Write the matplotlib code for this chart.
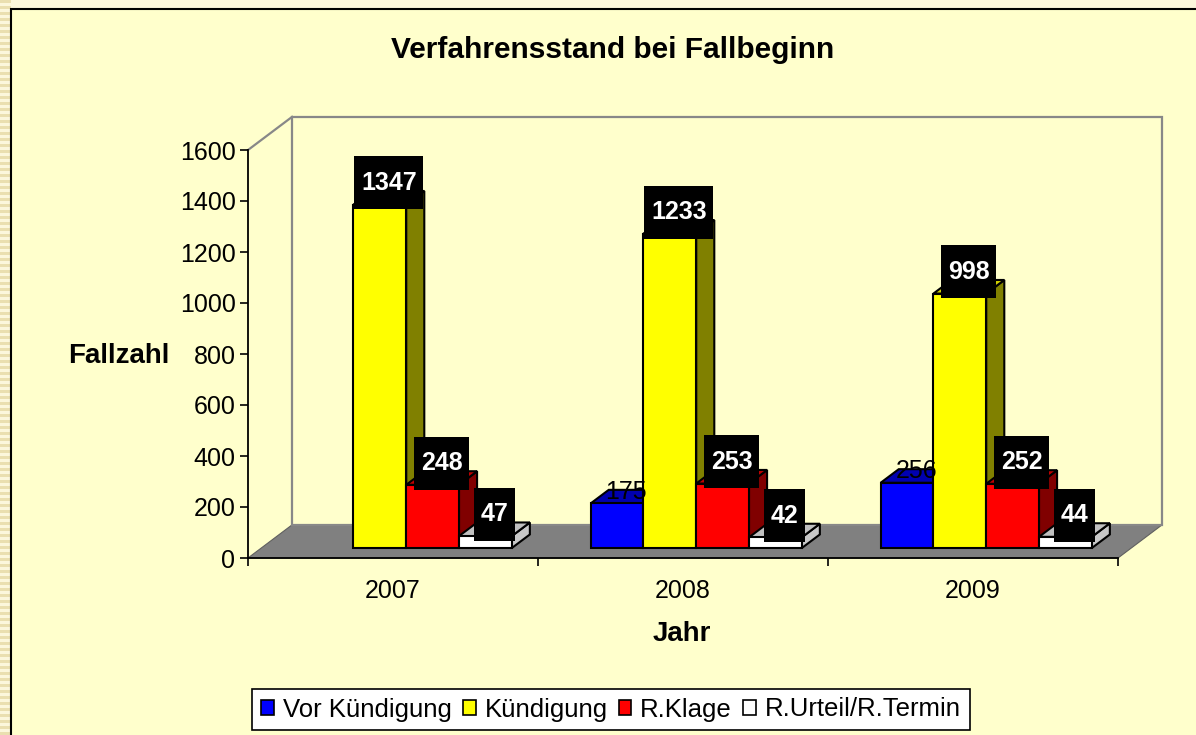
import matplotlib
matplotlib.use("Agg")
import matplotlib.pyplot as plt
import numpy as np
from matplotlib.patches import Polygon, Rectangle, Patch
from matplotlib.path import Path

plt.rcParams['font.family'] = ['Liberation Sans', 'DejaVu Sans']

# data
years = ['2007', '2008', '2009']
series = ['Vor Kündigung', 'Kündigung', 'R.Klage', 'R.Urteil/R.Termin']
vor_kuendigung = [np.nan, 175, 256]
kuendigung = [1347, 1233, 998]
r_klage = [248, 253, 252]
r_urteil = [47, 42, 44]
yticks = [0, 200, 400, 600, 800, 1000, 1200, 1400, 1600]

values = [vor_kuendigung, kuendigung, r_klage, r_urteil]
front_col = ['#0000FF', '#FFFF00', '#FF0000', '#FFFFFF']
top_col = ['#0000B0', '#D0D000', '#C00000', '#C0C0C0']
side_col = ['#000080', '#808000', '#800000', '#C8C8C8']
boxed = [False, True, True, True]

# fake 3d depth (data units)
DX = 0.152
DY = 130.0
f0 = 0.30   # bar front sits this far back on the floor
fb = 0.41   # bar depth
w = 0.182   # bar width


def label_box(x0, y0, width, height, mutation_size):
    px = 0.27 * mutation_size
    py = 0.58 * mutation_size
    verts = [(x0 - px, y0 - py), (x0 + width + px, y0 - py),
             (x0 + width + px, y0 + height + py), (x0 - px, y0 + height + py),
             (x0 - px, y0 - py)]
    return Path(verts, closed=True)


fig = plt.figure(figsize=(11.96, 7.35), dpi=100)
fig.patch.set_facecolor('#FCF7DC')

# striped slide edge on the left
for k in range(0, 735, 6):
    fig.add_artist(Rectangle((0, 1 - (k + 3) / 735), 11 / 1196, 3 / 735,
                             transform=fig.transFigure, facecolor='#EADFB0',
                             edgecolor='none', zorder=-6))
fig.add_artist(Rectangle((11 / 1196, -0.01), 1.0, 1 - 9 / 735 + 0.01,
                         transform=fig.transFigure, facecolor='#FFFFCC',
                         edgecolor='black', lw=1.5, zorder=-5))

ax = fig.add_axes([248 / 1196, 1 - 558 / 735, 870 / 1196, 408 / 735])
ax.set_facecolor('none')
ax.set_xlim(0, 3)
ax.set_ylim(0, 1600)

# floor and walls
ax.add_patch(Polygon([(0, 0), (3, 0), (3 + DX, DY), (DX, DY)], closed=True,
                     facecolor='#808080', edgecolor='#606060', lw=0.8,
                     clip_on=False, zorder=1))
ax.add_patch(Polygon([(DX, DY), (3 + DX, DY), (3 + DX, 1600 + DY), (DX, 1600 + DY)],
                     closed=True, facecolor='none', edgecolor='#888888', lw=1.6,
                     clip_on=False, zorder=1))
ax.plot([0, DX], [1600, 1600 + DY], color='#888888', lw=1.6, clip_on=False, zorder=1)

# bars, left to right so each front hides the previous side
for c in range(len(years)):
    for s in range(len(series)):
        v = values[s][c]
        if np.isnan(v):
            continue
        xl = c + 0.5 + f0 * DX + (s - 2) * w
        yb = f0 * DY
        yt = yb + v
        z = 3 + c * 0.1 + s * 0.01
        ax.add_patch(Polygon([(xl + w, yb), (xl + w + fb * DX, yb + fb * DY),
                              (xl + w + fb * DX, yt + fb * DY), (xl + w, yt)],
                             closed=True, facecolor=side_col[s], edgecolor='black',
                             lw=1.5, clip_on=False, zorder=z))
        ax.add_patch(Polygon([(xl, yt), (xl + w, yt), (xl + w + fb * DX, yt + fb * DY),
                              (xl + fb * DX, yt + fb * DY)],
                             closed=True, facecolor=top_col[s], edgecolor='black',
                             lw=1.5, clip_on=False, zorder=z))
        ax.bar(xl, v, width=w, bottom=yb, align='edge', color=front_col[s],
               edgecolor='black', lw=1.5, clip_on=False, zorder=z + 0.001)

        xm = xl + w / 2 + fb * DX / 2
        ym = yt + fb * DY / 2
        if boxed[s]:
            ax.text(xm, ym + 58, str(int(v)), ha='center', va='center',
                    fontsize=18, fontweight='bold', color='white', zorder=10,
                    bbox=dict(boxstyle=label_box, facecolor='black', edgecolor='none'))
        else:
            ax.text(xm, ym + 20, str(int(v)), ha='center', va='center',
                    fontsize=18, color='black', zorder=10)

# axes
for side in ['top', 'right']:
    ax.spines[side].set_visible(False)
for side in ['left', 'bottom']:
    ax.spines[side].set_color('black')
    ax.spines[side].set_linewidth(1.3)
    ax.spines[side].set_zorder(2)

ax.set_yticks(yticks)
ax.set_yticklabels([str(t) for t in yticks])
ax.tick_params(axis='y', direction='out', length=6, width=1.2, pad=3, labelsize=18)
ax.set_xticks([0, 1, 2, 3])
ax.set_xticklabels([])
ax.set_xticks([0.5, 1.5, 2.5], minor=True)
ax.set_xticklabels(years, minor=True)
ax.tick_params(axis='x', which='major', direction='out', length=6, width=1.2)
ax.tick_params(axis='x', which='minor', length=0, pad=15, labelsize=18)

fig.text(0.5125, 1 - 50 / 735, 'Verfahrensstand bei Fallbeginn', ha='center',
         va='center', fontsize=21.5, fontweight='bold')
fig.text(119 / 1196, 1 - 356 / 735, 'Fallzahl', ha='center', va='center',
         fontsize=20, fontweight='bold')
fig.text(682 / 1196, 1 - 634 / 735, 'Jahr', ha='center', va='center',
         fontsize=20, fontweight='bold')

handles = [Patch(facecolor=front_col[i], edgecolor='black', lw=1.2) for i in range(4)]
leg = fig.legend(handles, series, loc='center', bbox_to_anchor=(611 / 1196, 1 - 709.5 / 735),
                 ncol=4, fontsize=18.5, handlelength=0.5, handleheight=0.5,
                 handletextpad=0.35, columnspacing=0.42, borderpad=0.35,
                 fancybox=False, framealpha=1, edgecolor='black')
leg.get_frame().set_linewidth(1.2)

fig.savefig('out.png', dpi=100, facecolor=fig.get_facecolor())
